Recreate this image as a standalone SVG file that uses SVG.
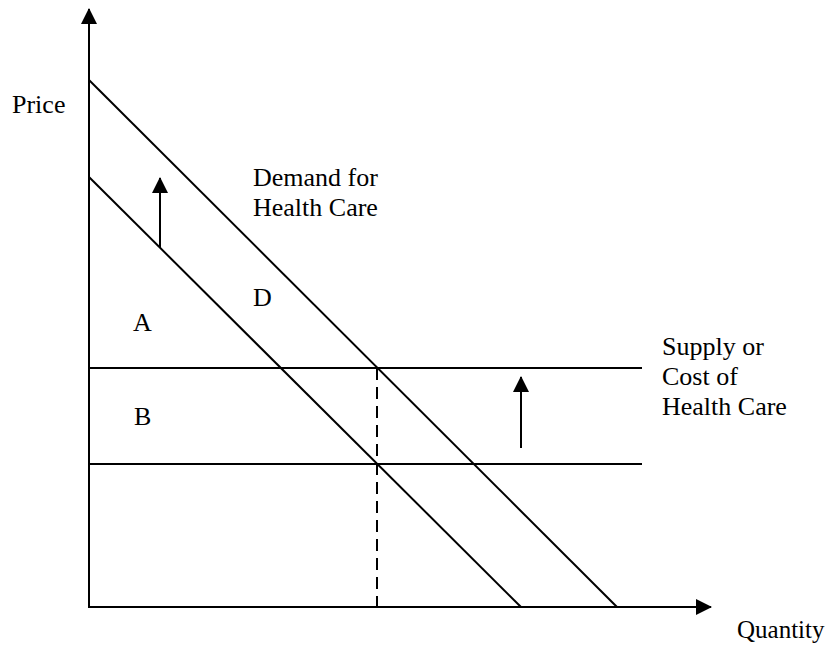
<svg xmlns="http://www.w3.org/2000/svg" width="829" height="649" viewBox="0 0 829 649">
<defs>
<style>
.ln{stroke:#000;stroke-width:2;fill:none}
.dash{stroke:#000;stroke-width:2;fill:none;stroke-dasharray:12 7}
.t{font-family:"Liberation Serif","Times New Roman",serif;font-size:26px;fill:#000}
.q{font-size:25px}
</style>
<marker id="ah" viewBox="0 0 16 16" refX="15" refY="8" markerWidth="16" markerHeight="16" markerUnits="userSpaceOnUse" orient="auto">
<path d="M0,0 L16,8 L0,16 Z" fill="#000"/>
</marker>
</defs>
<rect width="829" height="649" fill="#fff"/>
<g id="connectors">
<line id="y-axis" class="ln" x1="89" y1="607" x2="89" y2="9" marker-end="url(#ah)"/>
<line id="x-axis" class="ln" x1="88" y1="607" x2="711" y2="607" marker-end="url(#ah)"/>
<line id="demand-new" class="ln" x1="89" y1="80" x2="617" y2="607"/>
<line id="demand-old" class="ln" x1="89" y1="177" x2="521" y2="607"/>
<line id="supply-new" class="ln" x1="89" y1="368" x2="642" y2="368"/>
<line id="supply-old" class="ln" x1="89" y1="464" x2="642" y2="464"/>
<line id="quantity-dash" class="dash" x1="377" y1="368" x2="377" y2="607"/>
<line id="shift-demand" class="ln" x1="160" y1="248" x2="160" y2="178" marker-end="url(#ah)"/>
<line id="shift-supply" class="ln" x1="521" y1="448" x2="521" y2="377" marker-end="url(#ah)"/>
</g>
<g id="label-price"><text class="t" x="12" y="113">Price</text></g>
<g id="label-demand"><text class="t" x="253" y="186">Demand for</text><text class="t" x="253" y="216">Health Care</text></g>
<g id="label-D"><text class="t" x="253" y="306">D</text></g>
<g id="label-A"><text class="t" x="133" y="331">A</text></g>
<g id="label-B"><text class="t" x="134" y="425">B</text></g>
<g id="label-supply"><text class="t" x="662" y="355">Supply or</text><text class="t" x="662" y="385">Cost of</text><text class="t" x="662" y="415">Health Care</text></g>
<g id="label-quantity"><text class="t q" x="737" y="638">Quantity</text></g>
</svg>
